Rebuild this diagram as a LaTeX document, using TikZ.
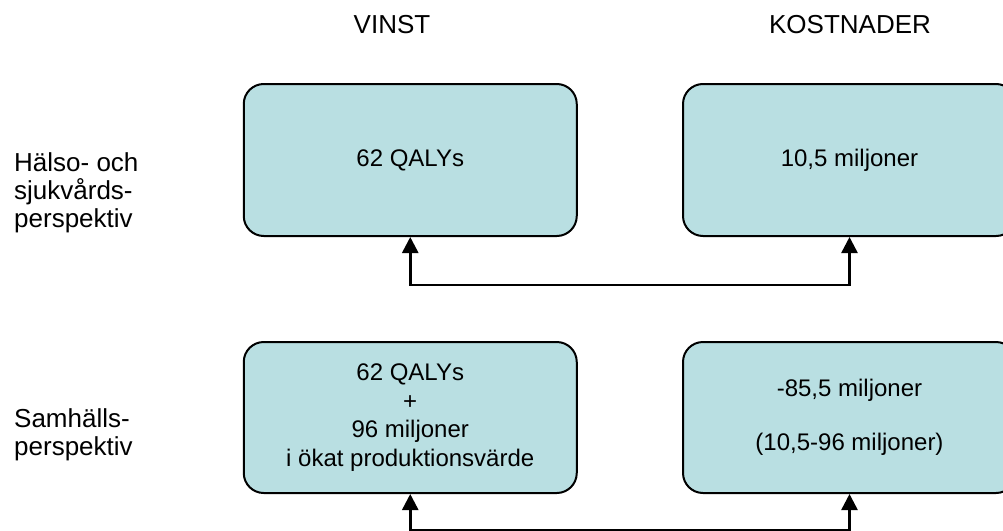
\documentclass[tikz,border=0pt]{standalone}
\usepackage{fontspec}
\setmainfont{Liberation Sans}
\usetikzlibrary{arrows.meta}
\definecolor{boxfill}{HTML}{B9DFE2}
\begin{document}
\begin{tikzpicture}[x=1pt,y=-1pt,
  panel/.style={draw=black, line width=2pt, fill=boxfill, rounded corners=20pt,
    minimum width=333pt, minimum height=152pt, inner sep=0pt, align=center,
    font=\fontsize{24}{28.5}\selectfont},
  hdr/.style={font=\fontsize{26}{28}\selectfont, inner sep=0pt, anchor=base},
  side/.style={font=\fontsize{26}{28}\selectfont, inner sep=0pt, anchor=base west, align=left},
  link/.style={line width=2.5pt, {Triangle[length=16pt,width=16pt]}-{Triangle[length=16pt,width=16pt]}}]
\path[use as bounding box] (0,0) rectangle (1003,530);
\clip (0,0) rectangle (1003,530);
\node[hdr] (h1) at (392,33) {VINST};
\node[hdr] (h2) at (850,33) {KOSTNADER};
\node[side] (s1) at (14,227) {Hälso- och\\sjukvårds-\\perspektiv};
\node[side] (s2) at (14,455) {Samhälls-\\perspektiv};
\node[panel] (tl) at (410.25,160) {62 QALYs};
\node[panel] (tr) at (849.5,160) {10,5 miljoner};
\node[panel, minimum height=151pt] (bl) at (410.25,417.5) {62 QALYs\\+\\96 miljoner\\i ökat produktionsvärde};
\node[panel, minimum height=151pt] (br) at (849.5,417.5) {-85,5 miljoner\\[25.5pt](10,5-96 miljoner)};
\draw[link] (tl.south) -- ([yshift=-48pt]tl.south) -| (tr.south);
\draw[link] (bl.south) -- ([yshift=-36pt]bl.south) -| (br.south);
\end{tikzpicture}
\end{document}
